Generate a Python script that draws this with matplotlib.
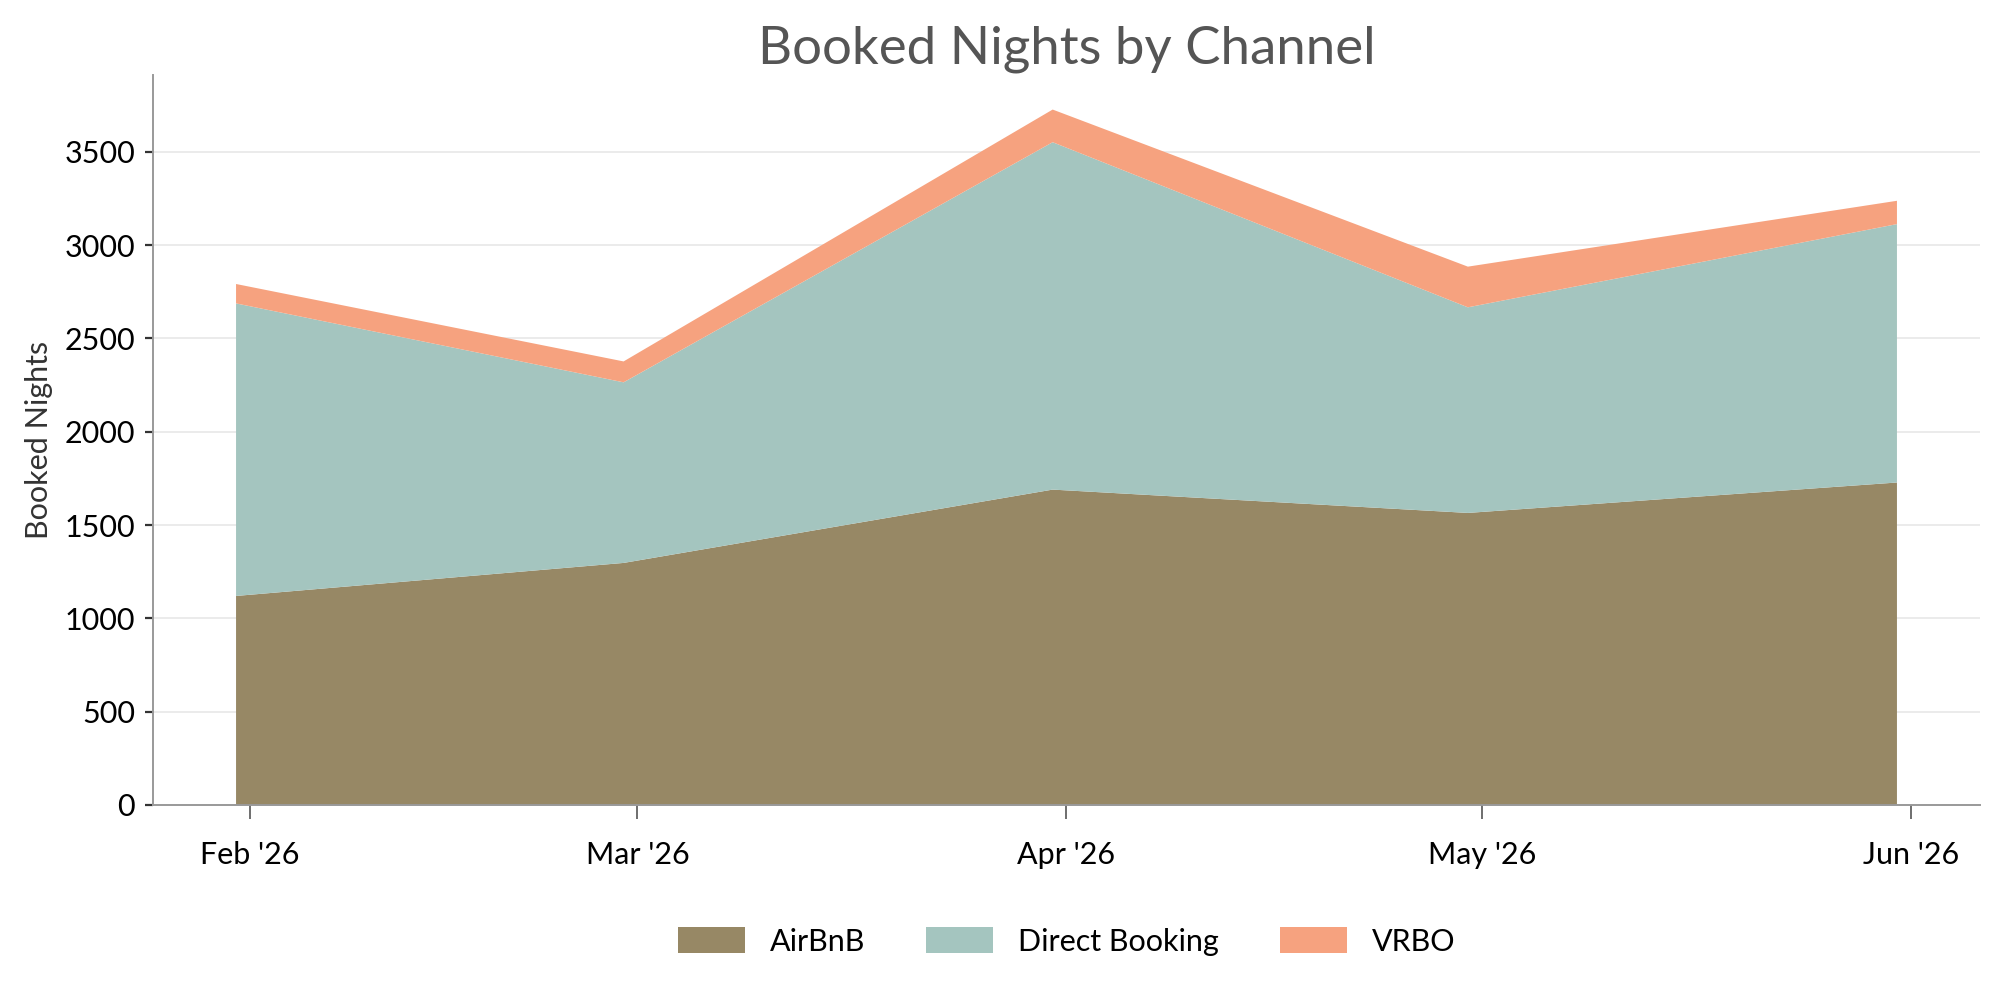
import numpy as np
import pandas as pd
import matplotlib
matplotlib.use("Agg")
import matplotlib.pyplot as plt
import matplotlib.dates as mdates

# monthly booked nights per channel (month-end dates)
dates = pd.to_datetime(["2026-01-31", "2026-02-28", "2026-03-31", "2026-04-30", "2026-05-31"])
airbnb = [1120, 1297, 1690, 1565, 1728]
direct = [1568, 968, 1862, 1102, 1385]
vrbo = [104, 112, 175, 218, 125]
labels = ["AirBnB", "Direct Booking", "VRBO"]
colors = ["#978865", "#a4c5bf", "#f6a27f"]

plt.rcParams["font.family"] = ["Lato", "DejaVu Sans"]

fig = plt.figure(figsize=(10, 4.92), dpi=200)
ax = fig.add_axes([0.0765, 0.182, 0.9135, 0.742])

ax.stackplot(dates, airbnb, direct, vrbo, labels=labels, colors=colors, linewidth=0)

ax.set_title("Booked Nights by Channel", fontsize=19, color="#555555", pad=4)
ax.set_ylabel("Booked Nights", fontsize=11, color="#333333")

ax.xaxis.set_major_locator(mdates.MonthLocator())
ax.xaxis.set_major_formatter(mdates.DateFormatter("%b '%y"))
ax.tick_params(axis="x", labelsize=11, length=5, width=0.6, color="#555555", pad=8)
ax.tick_params(axis="y", labelsize=11, length=3, width=0.8, color="#333333")

ax.grid(axis="y", color="#e8e8e8", linewidth=0.6)
ax.set_axisbelow(True)
for s in ["top", "right"]:
    ax.spines[s].set_visible(False)
for s in ["left", "bottom"]:
    ax.spines[s].set_color("#999999")
    ax.spines[s].set_linewidth(0.7)

ax.legend(loc="upper center", bbox_to_anchor=(0.5, -0.13), ncol=3, frameon=False,
          fontsize=11, handlelength=2.2, handleheight=0.9, columnspacing=2.0)

fig.savefig("out.png", dpi=200)
